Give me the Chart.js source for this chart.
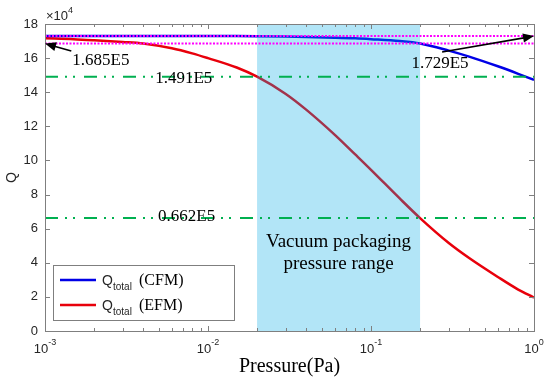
<!DOCTYPE html>
<html>
<head>
<meta charset="utf-8">
<script src="https://cdn.jsdelivr.net/npm/chart.js@4"></script>
<style>
  html, body { margin: 0; padding: 0; background: #fff; }
  #wrap { width: 550px; height: 383px; }
</style>
</head>
<body>
<div id="wrap"><canvas id="chart" width="550" height="383"></canvas></div>
<script>
// pressure in Pa, Q in units of 1e4
const pressure = [0.001, 0.0015, 0.002, 0.003, 0.004, 0.006, 0.008, 0.01, 0.015, 0.02, 0.03, 0.04, 0.06, 0.08, 0.1, 0.15, 0.2, 0.3, 0.4, 0.6, 0.8, 1];
const qCFM = [17.3, 17.3, 17.3, 17.3, 17.3, 17.3, 17.3, 17.3, 17.29, 17.28, 17.26, 17.24, 17.2, 17.16, 17.11, 17.0, 16.86, 16.44, 16.09, 15.52, 15.08, 14.72];
const qEFM = [17.16, 17.11, 17.05, 16.95, 16.86, 16.58, 16.28, 16.0, 15.45, 14.91, 13.9, 12.98, 11.5, 10.35, 9.45, 7.77, 6.62, 5.16, 4.28, 3.17, 2.43, 1.96];

const xLimits = [0.001, 1];
const yLimits = [0, 18];
const yTicks = [0, 2, 4, 6, 8, 10, 12, 14, 16, 18];
const xDecades = [-3, -2, -1, 0];

const magentaLevels = [17.29, 16.85];
const greenLevels = [14.91, 6.62];
const packagingRange = [0.02, 0.2];

// annotation texts with anchor points in data coordinates
const labels = [
  { text: "1.685E5", x: 0.0022, y: 15.83 },
  { text: "1.729E5", x: 0.265, y: 15.7 },
  { text: "1.491E5", x: 0.0071, y: 14.83 },
  { text: "0.662E5", x: 0.0074, y: 6.69 },
];
const arrows = [
  { from: [0.00145, 16.42], to: [0.001, 16.85] },
  { from: [0.273, 16.36], to: [1, 17.29] },
];

const SANS = "'Liberation Sans', Arial, sans-serif";
const SERIF = "'Liberation Serif', 'Times New Roman', serif";
const AXIS = "#7f7f7f";
const TEXT = "#262626";

const levelLine = (v, color, dash, width) => ({
  data: xLimits.map((x) => ({ x, y: v })),
  borderColor: color,
  borderDash: dash,
  borderWidth: width,
  pointRadius: 0,
});

const datasets = [
  levelLine(magentaLevels[0], "#ff00ff", [2, 1.5], 2),
  levelLine(magentaLevels[1], "#ff00ff", [2, 1.5], 2),
  levelLine(greenLevels[0], "#00b050", [13, 7, 2, 6, 2, 9], 2),
  levelLine(greenLevels[1], "#00b050", [13, 7, 2, 6, 2, 9], 2),
  {
    data: pressure.map((p, i) => ({ x: p, y: qCFM[i] })),
    borderColor: "#0000e6",
    borderWidth: 2.5,
    pointRadius: 0,
    cubicInterpolationMode: "monotone",
  },
  {
    data: pressure.map((p, i) => ({ x: p, y: qEFM[i] })),
    borderColor: "#e8000b",
    borderWidth: 2.5,
    pointRadius: 0,
    cubicInterpolationMode: "monotone",
  },
];
const CFM_INDEX = 4;

function drawArrow(ctx, x1, y1, x2, y2) {
  const ang = Math.atan2(y2 - y1, x2 - x1);
  const len = 11, half = 4.5;
  ctx.strokeStyle = "#000";
  ctx.fillStyle = "#000";
  ctx.lineWidth = 1.6;
  ctx.beginPath();
  ctx.moveTo(x1, y1);
  ctx.lineTo(x2 - Math.cos(ang) * len * 0.8, y2 - Math.sin(ang) * len * 0.8);
  ctx.stroke();
  ctx.beginPath();
  ctx.moveTo(x2, y2);
  ctx.lineTo(x2 - Math.cos(ang) * len - Math.sin(ang) * half, y2 - Math.sin(ang) * len + Math.cos(ang) * half);
  ctx.lineTo(x2 - Math.cos(ang) * len + Math.sin(ang) * half, y2 - Math.sin(ang) * len - Math.cos(ang) * half);
  ctx.closePath();
  ctx.fill();
}

const decorations = {
  id: "decorations",
  afterDatasetDraw(chart, args) {
    if (args.index !== CFM_INDEX) return;
    const { ctx, chartArea: a, scales } = chart;
    const x0 = scales.x.getPixelForValue(packagingRange[0]);
    const x1 = scales.x.getPixelForValue(packagingRange[1]);
    ctx.save();
    ctx.fillStyle = "rgba(0, 168, 228, 0.3)";
    ctx.fillRect(x0, a.top, x1 - x0, a.bottom - a.top);
    ctx.restore();
  },
  afterDraw(chart) {
    const { ctx, chartArea: a, scales } = chart;
    const xs = scales.x, ys = scales.y;
    ctx.save();

    // shaded region text
    const midX = (xs.getPixelForValue(packagingRange[0]) + xs.getPixelForValue(packagingRange[1])) / 2;
    ctx.fillStyle = "#000";
    ctx.font = "19px " + SERIF;
    ctx.textAlign = "center";
    ctx.textBaseline = "middle";
    ctx.fillText("Vacuum packaging", midX, 242);
    ctx.fillText("pressure range", midX, 264);

    // axes box
    ctx.strokeStyle = AXIS;
    ctx.lineWidth = 1;
    ctx.strokeRect(Math.round(a.left) + 0.5, Math.round(a.top) + 0.5, Math.round(a.right - a.left), Math.round(a.bottom - a.top));

    // y ticks
    ctx.beginPath();
    yTicks.forEach((v) => {
      const y = Math.round(ys.getPixelForValue(v)) + 0.5;
      ctx.moveTo(a.left, y); ctx.lineTo(a.left + 5, y);
      ctx.moveTo(a.right, y); ctx.lineTo(a.right - 5, y);
    });
    // x ticks, major and minor
    xDecades.forEach((d) => {
      for (let m = 1; m <= 9; m++) {
        if (d === 0 && m > 1) break;
        const x = Math.round(xs.getPixelForValue(m * Math.pow(10, d))) + 0.5;
        const len = m === 1 ? 5 : 3;
        ctx.moveTo(x, a.bottom); ctx.lineTo(x, a.bottom - len);
        ctx.moveTo(x, a.top); ctx.lineTo(x, a.top + len);
      }
    });
    ctx.stroke();

    // y tick labels
    ctx.fillStyle = TEXT;
    ctx.font = "13px " + SANS;
    ctx.textAlign = "right";
    ctx.textBaseline = "middle";
    yTicks.forEach((v) => ctx.fillText(String(v), a.left - 7, ys.getPixelForValue(v)));

    // x tick labels 10^d
    xDecades.forEach((d) => {
      const x = xs.getPixelForValue(Math.pow(10, d));
      ctx.font = "13px " + SANS;
      const wb = ctx.measureText("10").width;
      ctx.font = "9px " + SANS;
      const sup = String(d);
      const ws = ctx.measureText(sup).width;
      const start = x - (wb + ws) / 2;
      ctx.textAlign = "left";
      ctx.textBaseline = "alphabetic";
      ctx.font = "13px " + SANS;
      ctx.fillText("10", start, 353);
      ctx.font = "9px " + SANS;
      ctx.fillText(sup, start + wb, 345);
    });

    // exponent label
    ctx.font = "13px " + SANS;
    ctx.fillText("\u00d710", a.left + 1, 20);
    const we = ctx.measureText("\u00d710").width;
    ctx.font = "9px " + SANS;
    ctx.fillText("4", a.left + 1 + we, 13);

    // axis titles
    ctx.fillStyle = "#000";
    ctx.font = "20px " + SERIF;
    ctx.textAlign = "center";
    ctx.textBaseline = "middle";
    ctx.fillText("Pressure(Pa)", (a.left + a.right) / 2, 367);
    ctx.save();
    ctx.translate(12, (a.top + a.bottom) / 2);
    ctx.rotate(-Math.PI / 2);
    ctx.fillStyle = TEXT;
    ctx.font = "14px " + SANS;
    ctx.fillText("Q", 0, 0);
    ctx.restore();

    // value labels
    ctx.fillStyle = "#000";
    ctx.font = "17px " + SERIF;
    labels.forEach((l) => ctx.fillText(l.text, xs.getPixelForValue(l.x), ys.getPixelForValue(l.y)));

    // arrows
    arrows.forEach((ar) => drawArrow(ctx,
      xs.getPixelForValue(ar.from[0]), ys.getPixelForValue(ar.from[1]),
      xs.getPixelForValue(ar.to[0]), ys.getPixelForValue(ar.to[1])));

    // legend
    const lx = a.left + 8, ly = 265, lw = 181, lh = 55;
    ctx.fillStyle = "#fff";
    ctx.fillRect(lx, ly, lw, lh);
    ctx.strokeStyle = AXIS;
    ctx.lineWidth = 1;
    ctx.strokeRect(lx + 0.5, ly + 0.5, lw, lh);
    [["(CFM)", datasets[CFM_INDEX].borderColor, 280], ["(EFM)", datasets[CFM_INDEX + 1].borderColor, 305]].forEach(([name, color, y]) => {
      ctx.strokeStyle = color;
      ctx.lineWidth = 2.5;
      ctx.beginPath();
      ctx.moveTo(lx + 7, y); ctx.lineTo(lx + 43, y);
      ctx.stroke();
      ctx.fillStyle = TEXT;
      ctx.textAlign = "left";
      ctx.textBaseline = "alphabetic";
      ctx.font = "14px " + SANS;
      ctx.fillText("Q", lx + 49, y + 5);
      ctx.font = "10px " + SANS;
      ctx.fillText("total", lx + 60, y + 10);
      ctx.fillStyle = "#000";
      ctx.font = "16px " + SERIF;
      ctx.fillText(name, lx + 86, y + 5);
    });

    ctx.restore();
  },
};

new Chart(document.getElementById("chart"), {
  type: "line",
  data: { datasets },
  options: {
    responsive: false,
    animation: false,
    layout: { padding: { left: 45, right: 16, top: 24, bottom: 52 } },
    plugins: { legend: { display: false }, tooltip: { enabled: false } },
    scales: {
      x: {
        type: "logarithmic",
        min: xLimits[0],
        max: xLimits[1],
        ticks: { display: false },
        grid: { display: false },
        border: { display: false },
        afterFit: (s) => { s.height = 0; },
      },
      y: {
        type: "linear",
        min: yLimits[0],
        max: yLimits[1],
        ticks: { display: false },
        grid: { display: false },
        border: { display: false },
        afterFit: (s) => { s.width = 0; },
      },
    },
  },
  plugins: [decorations],
});
</script>
</body>
</html>
